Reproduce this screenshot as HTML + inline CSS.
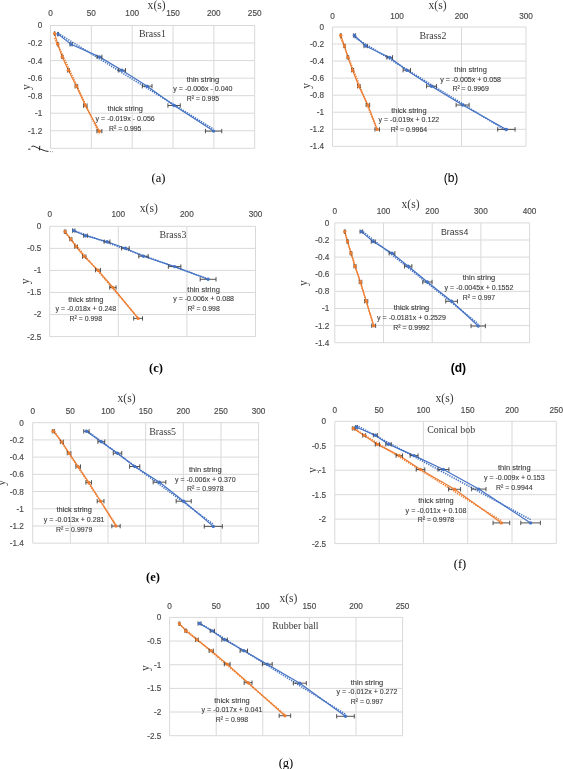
<!DOCTYPE html>
<html><head><meta charset="utf-8"><style>
html,body{margin:0;padding:0;background:#fff;}
svg{display:block;filter:blur(0.35px);}
.tk{font-family:"Liberation Sans", sans-serif;font-size:8.2px;fill:#4a4a4a;stroke:#4a4a4a;stroke-width:0.15px;}
.an{font-family:"Liberation Sans", sans-serif;font-size:8.1px;fill:#3a3a3a;stroke:#3a3a3a;stroke-width:0.12px;}
.ax{font-family:"Liberation Serif", serif;font-size:11.6px;fill:#3a3a3a;}
.ttl{font-family:"Liberation Serif", serif;font-size:9.9px;fill:#3a3a3a;}
.ttls{font-family:"Liberation Sans", sans-serif;font-size:8.8px;fill:#3a3a3a;}
.cap{font-family:"Liberation Serif", serif;font-size:12.5px;fill:#000;}
.caps{font-family:"Liberation Sans", sans-serif;font-size:12px;fill:#000;}
</style></head><body>
<svg width="563" height="769" viewBox="0 0 563 769">
<rect width="563" height="769" fill="#fff"/>
<line x1="50.5" y1="25.5" x2="50.5" y2="148.3" stroke="#d9d9d9" stroke-width="1"/>
<line x1="91.34" y1="25.5" x2="91.34" y2="148.3" stroke="#d9d9d9" stroke-width="1"/>
<line x1="132.18" y1="25.5" x2="132.18" y2="148.3" stroke="#d9d9d9" stroke-width="1"/>
<line x1="173.02" y1="25.5" x2="173.02" y2="148.3" stroke="#d9d9d9" stroke-width="1"/>
<line x1="213.86" y1="25.5" x2="213.86" y2="148.3" stroke="#d9d9d9" stroke-width="1"/>
<line x1="254.7" y1="25.5" x2="254.7" y2="148.3" stroke="#d9d9d9" stroke-width="1"/>
<line x1="50.5" y1="25.5" x2="254.7" y2="25.5" stroke="#d9d9d9" stroke-width="1"/>
<line x1="50.5" y1="43.04" x2="254.7" y2="43.04" stroke="#d9d9d9" stroke-width="1"/>
<line x1="50.5" y1="60.59" x2="254.7" y2="60.59" stroke="#d9d9d9" stroke-width="1"/>
<line x1="50.5" y1="78.13" x2="254.7" y2="78.13" stroke="#d9d9d9" stroke-width="1"/>
<line x1="50.5" y1="95.67" x2="254.7" y2="95.67" stroke="#d9d9d9" stroke-width="1"/>
<line x1="50.5" y1="113.21" x2="254.7" y2="113.21" stroke="#d9d9d9" stroke-width="1"/>
<line x1="50.5" y1="130.76" x2="254.7" y2="130.76" stroke="#d9d9d9" stroke-width="1"/>
<line x1="50.5" y1="148.3" x2="254.7" y2="148.3" stroke="#d9d9d9" stroke-width="1"/>
<text x="50.5" y="15.95" text-anchor="middle" class="tk">0</text>
<text x="91.34" y="15.95" text-anchor="middle" class="tk">50</text>
<text x="132.18" y="15.95" text-anchor="middle" class="tk">100</text>
<text x="173.02" y="15.95" text-anchor="middle" class="tk">150</text>
<text x="213.86" y="15.95" text-anchor="middle" class="tk">200</text>
<text x="254.7" y="15.95" text-anchor="middle" class="tk">250</text>
<text x="42.2" y="28.45" text-anchor="end" class="tk">0</text>
<text x="42.2" y="45.99" text-anchor="end" class="tk">-0.2</text>
<text x="42.2" y="63.54" text-anchor="end" class="tk">-0.4</text>
<text x="42.2" y="81.08" text-anchor="end" class="tk">-0.6</text>
<text x="42.2" y="98.62" text-anchor="end" class="tk">-0.8</text>
<text x="42.2" y="116.16" text-anchor="end" class="tk">-1</text>
<text x="42.2" y="133.71" text-anchor="end" class="tk">-1.2</text>
<text x="156.6" y="9" text-anchor="middle" class="ax">x(s)</text>
<text transform="translate(28.65,87) rotate(-90)" x="0" y="1.3" text-anchor="middle" class="ax">y</text>
<text x="152.4" y="37.3" text-anchor="middle" class="ttl">Brass1</text>
<line x1="54.6" y1="38.02" x2="99.4" y2="134.22" stroke="#ed7d31" stroke-width="1.6" stroke-dasharray="1.3 1.1" />
<path d="M54.6,33.6 L57.8,44.2 L62.2,56.7 L68.4,70.3 L76.4,86.3 L85.3,105.6 L99.4,131.2" fill="none" stroke="#ed7d31" stroke-width="1.2"/>
<path d="M54.4,33.6 H54.8 M54.4,31.4 V35.8 M54.8,31.4 V35.8" stroke="#404040" stroke-width="0.9" fill="none"/>
<path d="M57.43,44.2 H58.16 M57.43,42 V46.4 M58.16,42 V46.4" stroke="#404040" stroke-width="0.9" fill="none"/>
<path d="M61.62,56.7 H62.79 M61.62,54.5 V58.9 M62.79,54.5 V58.9" stroke="#404040" stroke-width="0.9" fill="none"/>
<path d="M67.51,70.3 H69.3 M67.51,68.1 V72.5 M69.3,68.1 V72.5" stroke="#404040" stroke-width="0.9" fill="none"/>
<path d="M75.11,86.3 H77.7 M75.11,84.1 V88.5 M77.7,84.1 V88.5" stroke="#404040" stroke-width="0.9" fill="none"/>
<path d="M83.56,105.6 H87.04 M83.56,103.4 V107.8 M87.04,103.4 V107.8" stroke="#404040" stroke-width="0.9" fill="none"/>
<path d="M96.96,131.2 H101.84 M96.96,129 V133.4 M101.84,129 V133.4" stroke="#404040" stroke-width="0.9" fill="none"/>
<circle cx="54.6" cy="33.6" r="1.7" fill="#ed7d31"/>
<circle cx="57.8" cy="44.2" r="1.7" fill="#ed7d31"/>
<circle cx="62.2" cy="56.7" r="1.7" fill="#ed7d31"/>
<circle cx="68.4" cy="70.3" r="1.7" fill="#ed7d31"/>
<circle cx="76.4" cy="86.3" r="1.7" fill="#ed7d31"/>
<circle cx="85.3" cy="105.6" r="1.7" fill="#ed7d31"/>
<circle cx="99.4" cy="131.2" r="1.7" fill="#ed7d31"/>
<line x1="58" y1="33.27" x2="213.6" y2="129.18" stroke="#4472c4" stroke-width="1.6" stroke-dasharray="1.3 1.1" />
<path d="M58,34.1 L71.1,44.3 L99.5,56.9 L121.9,70.3 L147.2,86.2 L174.1,105.5 L213.6,131.1" fill="none" stroke="#4472c4" stroke-width="1.2"/>
<path d="M57.62,34.1 H58.38 M57.62,31.9 V36.3 M58.38,31.9 V36.3" stroke="#404040" stroke-width="0.9" fill="none"/>
<path d="M70.07,44.3 H72.13 M70.07,42.1 V46.5 M72.13,42.1 V46.5" stroke="#404040" stroke-width="0.9" fill="none"/>
<path d="M97.05,56.9 H101.95 M97.05,54.7 V59.1 M101.95,54.7 V59.1" stroke="#404040" stroke-width="0.9" fill="none"/>
<path d="M118.33,70.3 H125.47 M118.33,68.1 V72.5 M125.47,68.1 V72.5" stroke="#404040" stroke-width="0.9" fill="none"/>
<path d="M142.36,86.2 H152.03 M142.36,84 V88.4 M152.03,84 V88.4" stroke="#404040" stroke-width="0.9" fill="none"/>
<path d="M167.92,105.5 H180.28 M167.92,103.3 V107.7 M180.28,103.3 V107.7" stroke="#404040" stroke-width="0.9" fill="none"/>
<path d="M205.44,131.1 H221.75 M205.44,128.9 V133.3 M221.75,128.9 V133.3" stroke="#404040" stroke-width="0.9" fill="none"/>
<circle cx="58" cy="34.1" r="1.7" fill="#4472c4"/>
<circle cx="71.1" cy="44.3" r="1.7" fill="#4472c4"/>
<circle cx="99.5" cy="56.9" r="1.7" fill="#4472c4"/>
<circle cx="121.9" cy="70.3" r="1.7" fill="#4472c4"/>
<circle cx="147.2" cy="86.2" r="1.7" fill="#4472c4"/>
<circle cx="174.1" cy="105.5" r="1.7" fill="#4472c4"/>
<circle cx="213.6" cy="131.1" r="1.7" fill="#4472c4"/>
<text x="202.9" y="81.5" text-anchor="middle" class="an" textLength="32.53" lengthAdjust="spacingAndGlyphs">thin string</text>
<text x="202.9" y="91.1" text-anchor="middle" class="an" textLength="59.18" lengthAdjust="spacingAndGlyphs">y = -0.006x - 0.040</text>
<text x="202.9" y="100.7" text-anchor="middle" class="an" textLength="32.39" lengthAdjust="spacingAndGlyphs">R² = 0.995</text>
<text x="125.2" y="111.1" text-anchor="middle" class="an" textLength="35.35" lengthAdjust="spacingAndGlyphs">thick string</text>
<text x="125.2" y="120.9" text-anchor="middle" class="an" textLength="59.18" lengthAdjust="spacingAndGlyphs">y = -0.019x - 0.056</text>
<text x="125.2" y="130.9" text-anchor="middle" class="an" textLength="32.39" lengthAdjust="spacingAndGlyphs">R² = 0.995</text>
<text x="158.5" y="182" text-anchor="middle" class="cap" font-weight="normal">(a)</text>
<line x1="332.5" y1="27" x2="332.5" y2="146.3" stroke="#d9d9d9" stroke-width="1"/>
<line x1="397" y1="27" x2="397" y2="146.3" stroke="#d9d9d9" stroke-width="1"/>
<line x1="461.5" y1="27" x2="461.5" y2="146.3" stroke="#d9d9d9" stroke-width="1"/>
<line x1="526" y1="27" x2="526" y2="146.3" stroke="#d9d9d9" stroke-width="1"/>
<line x1="332.5" y1="27" x2="526" y2="27" stroke="#d9d9d9" stroke-width="1"/>
<line x1="332.5" y1="44.04" x2="526" y2="44.04" stroke="#d9d9d9" stroke-width="1"/>
<line x1="332.5" y1="61.09" x2="526" y2="61.09" stroke="#d9d9d9" stroke-width="1"/>
<line x1="332.5" y1="78.13" x2="526" y2="78.13" stroke="#d9d9d9" stroke-width="1"/>
<line x1="332.5" y1="95.17" x2="526" y2="95.17" stroke="#d9d9d9" stroke-width="1"/>
<line x1="332.5" y1="112.21" x2="526" y2="112.21" stroke="#d9d9d9" stroke-width="1"/>
<line x1="332.5" y1="129.26" x2="526" y2="129.26" stroke="#d9d9d9" stroke-width="1"/>
<line x1="332.5" y1="146.3" x2="526" y2="146.3" stroke="#d9d9d9" stroke-width="1"/>
<text x="332.5" y="18.55" text-anchor="middle" class="tk">0</text>
<text x="397" y="18.55" text-anchor="middle" class="tk">100</text>
<text x="461.5" y="18.55" text-anchor="middle" class="tk">200</text>
<text x="526" y="18.55" text-anchor="middle" class="tk">300</text>
<text x="324" y="29.95" text-anchor="end" class="tk">0</text>
<text x="324" y="46.99" text-anchor="end" class="tk">-0.2</text>
<text x="324" y="64.04" text-anchor="end" class="tk">-0.4</text>
<text x="324" y="81.08" text-anchor="end" class="tk">-0.6</text>
<text x="324" y="98.12" text-anchor="end" class="tk">-0.8</text>
<text x="324" y="115.16" text-anchor="end" class="tk">-1</text>
<text x="324" y="132.21" text-anchor="end" class="tk">-1.2</text>
<text x="324" y="149.25" text-anchor="end" class="tk">-1.4</text>
<text x="437.5" y="8.7" text-anchor="middle" class="ax">x(s)</text>
<text transform="translate(309,85.9) rotate(-90)" x="0" y="1.3" text-anchor="middle" class="ax">y</text>
<text x="432.9" y="38.9" text-anchor="middle" class="ttl">Brass2</text>
<line x1="340.8" y1="37.93" x2="377.2" y2="130.31" stroke="#ed7d31" stroke-width="1.6" stroke-dasharray="1.3 1.1" />
<path d="M340.8,35.5 L344.5,46 L347.9,57.4 L352.6,70.2 L358.8,86.2 L367.9,105 L377.2,129.4" fill="none" stroke="#ed7d31" stroke-width="1.2"/>
<path d="M340.38,35.5 H341.22 M340.38,33.3 V37.7 M341.22,33.3 V37.7" stroke="#404040" stroke-width="0.9" fill="none"/>
<path d="M343.9,46 H345.1 M343.9,43.8 V48.2 M345.1,43.8 V48.2" stroke="#404040" stroke-width="0.9" fill="none"/>
<path d="M347.13,57.4 H348.67 M347.13,55.2 V59.6 M348.67,55.2 V59.6" stroke="#404040" stroke-width="0.9" fill="none"/>
<path d="M351.6,70.2 H353.61 M351.6,68 V72.4 M353.61,68 V72.4" stroke="#404040" stroke-width="0.9" fill="none"/>
<path d="M357.49,86.2 H360.12 M357.49,84 V88.4 M360.12,84 V88.4" stroke="#404040" stroke-width="0.9" fill="none"/>
<path d="M366.13,105 H369.67 M366.13,102.8 V107.2 M369.67,102.8 V107.2" stroke="#404040" stroke-width="0.9" fill="none"/>
<path d="M374.96,129.4 H379.44 M374.96,127.2 V131.6 M379.44,127.2 V131.6" stroke="#404040" stroke-width="0.9" fill="none"/>
<circle cx="340.8" cy="35.5" r="1.7" fill="#ed7d31"/>
<circle cx="344.5" cy="46" r="1.7" fill="#ed7d31"/>
<circle cx="347.9" cy="57.4" r="1.7" fill="#ed7d31"/>
<circle cx="352.6" cy="70.2" r="1.7" fill="#ed7d31"/>
<circle cx="358.8" cy="86.2" r="1.7" fill="#ed7d31"/>
<circle cx="367.9" cy="105" r="1.7" fill="#ed7d31"/>
<circle cx="377.2" cy="129.4" r="1.7" fill="#ed7d31"/>
<line x1="354.5" y1="37.36" x2="506.4" y2="130.88" stroke="#4472c4" stroke-width="1.6" stroke-dasharray="1.3 1.1" />
<path d="M354.5,35.5 L365.6,46 L389.7,57.4 L406.8,70.2 L431.5,86.2 L462.6,105 L506.4,129.4" fill="none" stroke="#4472c4" stroke-width="1.2"/>
<path d="M353.4,35.5 H355.6 M353.4,33.3 V37.7 M355.6,33.3 V37.7" stroke="#404040" stroke-width="0.9" fill="none"/>
<path d="M363.95,46 H367.25 M363.95,43.8 V48.2 M367.25,43.8 V48.2" stroke="#404040" stroke-width="0.9" fill="none"/>
<path d="M386.84,57.4 H392.56 M386.84,55.2 V59.6 M392.56,55.2 V59.6" stroke="#404040" stroke-width="0.9" fill="none"/>
<path d="M403.09,70.2 H410.51 M403.09,68 V72.4 M410.51,68 V72.4" stroke="#404040" stroke-width="0.9" fill="none"/>
<path d="M426.55,86.2 H436.45 M426.55,84 V88.4 M436.45,84 V88.4" stroke="#404040" stroke-width="0.9" fill="none"/>
<path d="M456.1,105 H469.11 M456.1,102.8 V107.2 M469.11,102.8 V107.2" stroke="#404040" stroke-width="0.9" fill="none"/>
<path d="M497.7,129.4 H515.1 M497.7,127.2 V131.6 M515.1,127.2 V131.6" stroke="#404040" stroke-width="0.9" fill="none"/>
<circle cx="354.5" cy="35.5" r="1.7" fill="#4472c4"/>
<circle cx="365.6" cy="46" r="1.7" fill="#4472c4"/>
<circle cx="389.7" cy="57.4" r="1.7" fill="#4472c4"/>
<circle cx="406.8" cy="70.2" r="1.7" fill="#4472c4"/>
<circle cx="431.5" cy="86.2" r="1.7" fill="#4472c4"/>
<circle cx="462.6" cy="105" r="1.7" fill="#4472c4"/>
<circle cx="506.4" cy="129.4" r="1.7" fill="#4472c4"/>
<text x="470.6" y="72.2" text-anchor="middle" class="an" textLength="32.53" lengthAdjust="spacingAndGlyphs">thin string</text>
<text x="470.6" y="81.8" text-anchor="middle" class="an" textLength="60.77" lengthAdjust="spacingAndGlyphs">y = -0.005x + 0.058</text>
<text x="470.6" y="91.4" text-anchor="middle" class="an" textLength="36.44" lengthAdjust="spacingAndGlyphs">R² = 0.9969</text>
<text x="408.9" y="112.6" text-anchor="middle" class="an" textLength="35.35" lengthAdjust="spacingAndGlyphs">thick string</text>
<text x="408.9" y="121.8" text-anchor="middle" class="an" textLength="60.77" lengthAdjust="spacingAndGlyphs">y = -0.019x + 0.122</text>
<text x="408.9" y="131.8" text-anchor="middle" class="an" textLength="36.44" lengthAdjust="spacingAndGlyphs">R² = 0.9964</text>
<text x="451" y="182" text-anchor="middle" class="caps" font-weight="normal">(b)</text>
<line x1="49.7" y1="226.3" x2="49.7" y2="336.6" stroke="#d9d9d9" stroke-width="1"/>
<line x1="118.3" y1="226.3" x2="118.3" y2="336.6" stroke="#d9d9d9" stroke-width="1"/>
<line x1="186.9" y1="226.3" x2="186.9" y2="336.6" stroke="#d9d9d9" stroke-width="1"/>
<line x1="255.5" y1="226.3" x2="255.5" y2="336.6" stroke="#d9d9d9" stroke-width="1"/>
<line x1="49.7" y1="226.3" x2="255.5" y2="226.3" stroke="#d9d9d9" stroke-width="1"/>
<line x1="49.7" y1="248.36" x2="255.5" y2="248.36" stroke="#d9d9d9" stroke-width="1"/>
<line x1="49.7" y1="270.42" x2="255.5" y2="270.42" stroke="#d9d9d9" stroke-width="1"/>
<line x1="49.7" y1="292.48" x2="255.5" y2="292.48" stroke="#d9d9d9" stroke-width="1"/>
<line x1="49.7" y1="314.54" x2="255.5" y2="314.54" stroke="#d9d9d9" stroke-width="1"/>
<line x1="49.7" y1="336.6" x2="255.5" y2="336.6" stroke="#d9d9d9" stroke-width="1"/>
<text x="49.7" y="217.35" text-anchor="middle" class="tk">0</text>
<text x="118.3" y="217.35" text-anchor="middle" class="tk">100</text>
<text x="186.9" y="217.35" text-anchor="middle" class="tk">200</text>
<text x="255.5" y="217.35" text-anchor="middle" class="tk">300</text>
<text x="41.3" y="229.25" text-anchor="end" class="tk">0</text>
<text x="41.3" y="251.31" text-anchor="end" class="tk">-0.5</text>
<text x="41.3" y="273.37" text-anchor="end" class="tk">-1</text>
<text x="41.3" y="295.43" text-anchor="end" class="tk">-1.5</text>
<text x="41.3" y="317.49" text-anchor="end" class="tk">-2</text>
<text x="41.3" y="339.55" text-anchor="end" class="tk">-2.5</text>
<text x="148.8" y="212.4" text-anchor="middle" class="ax">x(s)</text>
<text transform="translate(27.8,281.4) rotate(-90)" x="0" y="1.3" text-anchor="middle" class="ax">y</text>
<text x="172.9" y="237.5" text-anchor="middle" class="ttl">Brass3</text>
<line x1="65.1" y1="232.66" x2="138.1" y2="317.9" stroke="#ed7d31" stroke-width="1.6" stroke-dasharray="1.3 1.1" />
<path d="M65.1,231.6 L70.8,239.1 L76.1,246.6 L84.2,256.6 L98,270.1 L112.9,287.5 L138.1,318.4" fill="none" stroke="#ed7d31" stroke-width="1.2"/>
<path d="M64.33,231.6 H65.87 M64.33,229.4 V233.8 M65.87,229.4 V233.8" stroke="#404040" stroke-width="0.9" fill="none"/>
<path d="M69.75,239.1 H71.85 M69.75,236.9 V241.3 M71.85,236.9 V241.3" stroke="#404040" stroke-width="0.9" fill="none"/>
<path d="M74.78,246.6 H77.42 M74.78,244.4 V248.8 M77.42,244.4 V248.8" stroke="#404040" stroke-width="0.9" fill="none"/>
<path d="M82.48,256.6 H85.92 M82.48,254.4 V258.8 M85.92,254.4 V258.8" stroke="#404040" stroke-width="0.9" fill="none"/>
<path d="M95.58,270.1 H100.42 M95.58,267.9 V272.3 M100.42,267.9 V272.3" stroke="#404040" stroke-width="0.9" fill="none"/>
<path d="M109.74,287.5 H116.06 M109.74,285.3 V289.7 M116.06,285.3 V289.7" stroke="#404040" stroke-width="0.9" fill="none"/>
<path d="M133.68,318.4 H142.52 M133.68,316.2 V320.6 M142.52,316.2 V320.6" stroke="#404040" stroke-width="0.9" fill="none"/>
<circle cx="65.1" cy="231.6" r="1.7" fill="#ed7d31"/>
<circle cx="70.8" cy="239.1" r="1.7" fill="#ed7d31"/>
<circle cx="76.1" cy="246.6" r="1.7" fill="#ed7d31"/>
<circle cx="84.2" cy="256.6" r="1.7" fill="#ed7d31"/>
<circle cx="98" cy="270.1" r="1.7" fill="#ed7d31"/>
<circle cx="112.9" cy="287.5" r="1.7" fill="#ed7d31"/>
<circle cx="138.1" cy="318.4" r="1.7" fill="#ed7d31"/>
<line x1="73.7" y1="230.52" x2="208.1" y2="278.94" stroke="#4472c4" stroke-width="1.6" stroke-dasharray="1.3 1.1" />
<path d="M73.7,230.6 L85.5,235.7 L107,241.7 L125.4,248.3 L143.5,256.2 L174.6,266.6 L208.1,279.3" fill="none" stroke="#4472c4" stroke-width="1.2"/>
<path d="M72.5,230.6 H74.9 M72.5,228.4 V232.8 M74.9,228.4 V232.8" stroke="#404040" stroke-width="0.9" fill="none"/>
<path d="M83.71,235.7 H87.29 M83.71,233.5 V237.9 M87.29,233.5 V237.9" stroke="#404040" stroke-width="0.9" fill="none"/>
<path d="M104.14,241.7 H109.86 M104.14,239.5 V243.9 M109.86,239.5 V243.9" stroke="#404040" stroke-width="0.9" fill="none"/>
<path d="M121.62,248.3 H129.19 M121.62,246.1 V250.5 M129.19,246.1 V250.5" stroke="#404040" stroke-width="0.9" fill="none"/>
<path d="M138.81,256.2 H148.19 M138.81,254 V258.4 M148.19,254 V258.4" stroke="#404040" stroke-width="0.9" fill="none"/>
<path d="M168.35,266.6 H180.84 M168.35,264.4 V268.8 M180.84,264.4 V268.8" stroke="#404040" stroke-width="0.9" fill="none"/>
<path d="M200.18,279.3 H216.02 M200.18,277.1 V281.5 M216.02,277.1 V281.5" stroke="#404040" stroke-width="0.9" fill="none"/>
<circle cx="73.7" cy="230.6" r="1.7" fill="#4472c4"/>
<circle cx="85.5" cy="235.7" r="1.7" fill="#4472c4"/>
<circle cx="107" cy="241.7" r="1.7" fill="#4472c4"/>
<circle cx="125.4" cy="248.3" r="1.7" fill="#4472c4"/>
<circle cx="143.5" cy="256.2" r="1.7" fill="#4472c4"/>
<circle cx="174.6" cy="266.6" r="1.7" fill="#4472c4"/>
<circle cx="208.1" cy="279.3" r="1.7" fill="#4472c4"/>
<text x="203.6" y="291.5" text-anchor="middle" class="an" textLength="32.53" lengthAdjust="spacingAndGlyphs">thin string</text>
<text x="203.6" y="301.2" text-anchor="middle" class="an" textLength="60.77" lengthAdjust="spacingAndGlyphs">y = -0.006x + 0.088</text>
<text x="203.6" y="311.1" text-anchor="middle" class="an" textLength="32.39" lengthAdjust="spacingAndGlyphs">R² = 0.998</text>
<text x="85.8" y="301.5" text-anchor="middle" class="an" textLength="35.35" lengthAdjust="spacingAndGlyphs">thick string</text>
<text x="85.8" y="311.1" text-anchor="middle" class="an" textLength="60.77" lengthAdjust="spacingAndGlyphs">y = -0.018x + 0.248</text>
<text x="85.8" y="321.1" text-anchor="middle" class="an" textLength="32.39" lengthAdjust="spacingAndGlyphs">R² = 0.998</text>
<text x="156" y="372" text-anchor="middle" class="cap" font-weight="bold">(c)</text>
<line x1="334.8" y1="222.9" x2="334.8" y2="342.7" stroke="#d9d9d9" stroke-width="1"/>
<line x1="383.5" y1="222.9" x2="383.5" y2="342.7" stroke="#d9d9d9" stroke-width="1"/>
<line x1="432.2" y1="222.9" x2="432.2" y2="342.7" stroke="#d9d9d9" stroke-width="1"/>
<line x1="480.9" y1="222.9" x2="480.9" y2="342.7" stroke="#d9d9d9" stroke-width="1"/>
<line x1="529.6" y1="222.9" x2="529.6" y2="342.7" stroke="#d9d9d9" stroke-width="1"/>
<line x1="334.8" y1="222.9" x2="529.6" y2="222.9" stroke="#d9d9d9" stroke-width="1"/>
<line x1="334.8" y1="240.01" x2="529.6" y2="240.01" stroke="#d9d9d9" stroke-width="1"/>
<line x1="334.8" y1="257.13" x2="529.6" y2="257.13" stroke="#d9d9d9" stroke-width="1"/>
<line x1="334.8" y1="274.24" x2="529.6" y2="274.24" stroke="#d9d9d9" stroke-width="1"/>
<line x1="334.8" y1="291.36" x2="529.6" y2="291.36" stroke="#d9d9d9" stroke-width="1"/>
<line x1="334.8" y1="308.47" x2="529.6" y2="308.47" stroke="#d9d9d9" stroke-width="1"/>
<line x1="334.8" y1="325.59" x2="529.6" y2="325.59" stroke="#d9d9d9" stroke-width="1"/>
<line x1="334.8" y1="342.7" x2="529.6" y2="342.7" stroke="#d9d9d9" stroke-width="1"/>
<text x="334.8" y="214.15" text-anchor="middle" class="tk">0</text>
<text x="383.5" y="214.15" text-anchor="middle" class="tk">100</text>
<text x="432.2" y="214.15" text-anchor="middle" class="tk">200</text>
<text x="480.9" y="214.15" text-anchor="middle" class="tk">300</text>
<text x="529.6" y="214.15" text-anchor="middle" class="tk">400</text>
<text x="329.4" y="225.85" text-anchor="end" class="tk">0</text>
<text x="329.4" y="242.96" text-anchor="end" class="tk">-0.2</text>
<text x="329.4" y="260.08" text-anchor="end" class="tk">-0.4</text>
<text x="329.4" y="277.19" text-anchor="end" class="tk">-0.6</text>
<text x="329.4" y="294.31" text-anchor="end" class="tk">-0.8</text>
<text x="329.4" y="311.42" text-anchor="end" class="tk">-1</text>
<text x="329.4" y="328.54" text-anchor="end" class="tk">-1.2</text>
<text x="329.4" y="345.65" text-anchor="end" class="tk">-1.4</text>
<text x="410.5" y="208" text-anchor="middle" class="ax">x(s)</text>
<text transform="translate(305.3,283.2) rotate(-90)" x="0" y="1.3" text-anchor="middle" class="ax">y</text>
<text x="454.6" y="235.3" text-anchor="middle" class="ttls">Brass4</text>
<line x1="344.8" y1="232.48" x2="373.7" y2="325.54" stroke="#ed7d31" stroke-width="1.6" stroke-dasharray="1.3 1.1" />
<path d="M344.8,231.6 L347.6,241.6 L351,253.3 L355,266.3 L360.5,282 L366.2,301.2 L373.7,325.7" fill="none" stroke="#ed7d31" stroke-width="1.2"/>
<path d="M344.3,231.6 H345.3 M344.3,229.4 V233.8 M345.3,229.4 V233.8" stroke="#404040" stroke-width="0.9" fill="none"/>
<path d="M346.96,241.6 H348.24 M346.96,239.4 V243.8 M348.24,239.4 V243.8" stroke="#404040" stroke-width="0.9" fill="none"/>
<path d="M350.19,253.3 H351.81 M350.19,251.1 V255.5 M351.81,251.1 V255.5" stroke="#404040" stroke-width="0.9" fill="none"/>
<path d="M353.99,266.3 H356.01 M353.99,264.1 V268.5 M356.01,264.1 V268.5" stroke="#404040" stroke-width="0.9" fill="none"/>
<path d="M359.21,282 H361.79 M359.21,279.8 V284.2 M361.79,279.8 V284.2" stroke="#404040" stroke-width="0.9" fill="none"/>
<path d="M364.63,301.2 H367.77 M364.63,299 V303.4 M367.77,299 V303.4" stroke="#404040" stroke-width="0.9" fill="none"/>
<path d="M371.75,325.7 H375.64 M371.75,323.5 V327.9 M375.64,323.5 V327.9" stroke="#404040" stroke-width="0.9" fill="none"/>
<circle cx="344.8" cy="231.6" r="1.7" fill="#ed7d31"/>
<circle cx="347.6" cy="241.6" r="1.7" fill="#ed7d31"/>
<circle cx="351" cy="253.3" r="1.7" fill="#ed7d31"/>
<circle cx="355" cy="266.3" r="1.7" fill="#ed7d31"/>
<circle cx="360.5" cy="282" r="1.7" fill="#ed7d31"/>
<circle cx="366.2" cy="301.2" r="1.7" fill="#ed7d31"/>
<circle cx="373.7" cy="325.7" r="1.7" fill="#ed7d31"/>
<line x1="361.4" y1="230.41" x2="478.2" y2="323.67" stroke="#4472c4" stroke-width="1.6" stroke-dasharray="1.3 1.1" />
<path d="M361.4,231.6 L373.2,241.6 L392,253.3 L408.2,266.3 L427.4,282 L451.6,301.3 L478.2,326" fill="none" stroke="#4472c4" stroke-width="1.2"/>
<path d="M360.07,231.6 H362.73 M360.07,229.4 V233.8 M362.73,229.4 V233.8" stroke="#404040" stroke-width="0.9" fill="none"/>
<path d="M371.28,241.6 H375.12 M371.28,239.4 V243.8 M375.12,239.4 V243.8" stroke="#404040" stroke-width="0.9" fill="none"/>
<path d="M389.14,253.3 H394.86 M389.14,251.1 V255.5 M394.86,251.1 V255.5" stroke="#404040" stroke-width="0.9" fill="none"/>
<path d="M404.53,266.3 H411.87 M404.53,264.1 V268.5 M411.87,264.1 V268.5" stroke="#404040" stroke-width="0.9" fill="none"/>
<path d="M422.77,282 H432.03 M422.77,279.8 V284.2 M432.03,279.8 V284.2" stroke="#404040" stroke-width="0.9" fill="none"/>
<path d="M445.76,301.3 H457.44 M445.76,299.1 V303.5 M457.44,299.1 V303.5" stroke="#404040" stroke-width="0.9" fill="none"/>
<path d="M471.03,326 H485.37 M471.03,323.8 V328.2 M485.37,323.8 V328.2" stroke="#404040" stroke-width="0.9" fill="none"/>
<circle cx="361.4" cy="231.6" r="1.7" fill="#4472c4"/>
<circle cx="373.2" cy="241.6" r="1.7" fill="#4472c4"/>
<circle cx="392" cy="253.3" r="1.7" fill="#4472c4"/>
<circle cx="408.2" cy="266.3" r="1.7" fill="#4472c4"/>
<circle cx="427.4" cy="282" r="1.7" fill="#4472c4"/>
<circle cx="451.6" cy="301.3" r="1.7" fill="#4472c4"/>
<circle cx="478.2" cy="326" r="1.7" fill="#4472c4"/>
<text x="479" y="280.1" text-anchor="middle" class="an" textLength="32.53" lengthAdjust="spacingAndGlyphs">thin string</text>
<text x="479" y="289.7" text-anchor="middle" class="an" textLength="68.88" lengthAdjust="spacingAndGlyphs">y = -0.0045x + 0.1552</text>
<text x="479" y="299.7" text-anchor="middle" class="an" textLength="32.39" lengthAdjust="spacingAndGlyphs">R² = 0.997</text>
<text x="411.5" y="310.3" text-anchor="middle" class="an" textLength="35.35" lengthAdjust="spacingAndGlyphs">thick string</text>
<text x="411.5" y="320.1" text-anchor="middle" class="an" textLength="68.88" lengthAdjust="spacingAndGlyphs">y = -0.0181x + 0.2529</text>
<text x="411.5" y="330.1" text-anchor="middle" class="an" textLength="36.44" lengthAdjust="spacingAndGlyphs">R² = 0.9992</text>
<text x="458.4" y="371.7" text-anchor="middle" class="caps" font-weight="bold">(d)</text>
<line x1="32.7" y1="422.7" x2="32.7" y2="543.2" stroke="#d9d9d9" stroke-width="1"/>
<line x1="70.35" y1="422.7" x2="70.35" y2="543.2" stroke="#d9d9d9" stroke-width="1"/>
<line x1="108" y1="422.7" x2="108" y2="543.2" stroke="#d9d9d9" stroke-width="1"/>
<line x1="145.65" y1="422.7" x2="145.65" y2="543.2" stroke="#d9d9d9" stroke-width="1"/>
<line x1="183.3" y1="422.7" x2="183.3" y2="543.2" stroke="#d9d9d9" stroke-width="1"/>
<line x1="220.95" y1="422.7" x2="220.95" y2="543.2" stroke="#d9d9d9" stroke-width="1"/>
<line x1="258.6" y1="422.7" x2="258.6" y2="543.2" stroke="#d9d9d9" stroke-width="1"/>
<line x1="32.7" y1="422.7" x2="258.6" y2="422.7" stroke="#d9d9d9" stroke-width="1"/>
<line x1="32.7" y1="439.91" x2="258.6" y2="439.91" stroke="#d9d9d9" stroke-width="1"/>
<line x1="32.7" y1="457.13" x2="258.6" y2="457.13" stroke="#d9d9d9" stroke-width="1"/>
<line x1="32.7" y1="474.34" x2="258.6" y2="474.34" stroke="#d9d9d9" stroke-width="1"/>
<line x1="32.7" y1="491.56" x2="258.6" y2="491.56" stroke="#d9d9d9" stroke-width="1"/>
<line x1="32.7" y1="508.77" x2="258.6" y2="508.77" stroke="#d9d9d9" stroke-width="1"/>
<line x1="32.7" y1="525.99" x2="258.6" y2="525.99" stroke="#d9d9d9" stroke-width="1"/>
<line x1="32.7" y1="543.2" x2="258.6" y2="543.2" stroke="#d9d9d9" stroke-width="1"/>
<text x="32.7" y="413.95" text-anchor="middle" class="tk">0</text>
<text x="70.35" y="413.95" text-anchor="middle" class="tk">50</text>
<text x="108" y="413.95" text-anchor="middle" class="tk">100</text>
<text x="145.65" y="413.95" text-anchor="middle" class="tk">150</text>
<text x="183.3" y="413.95" text-anchor="middle" class="tk">200</text>
<text x="220.95" y="413.95" text-anchor="middle" class="tk">250</text>
<text x="258.6" y="413.95" text-anchor="middle" class="tk">300</text>
<text x="23.9" y="425.65" text-anchor="end" class="tk">0</text>
<text x="23.9" y="442.86" text-anchor="end" class="tk">-0.2</text>
<text x="23.9" y="460.08" text-anchor="end" class="tk">-0.4</text>
<text x="23.9" y="477.29" text-anchor="end" class="tk">-0.6</text>
<text x="23.9" y="494.51" text-anchor="end" class="tk">-0.8</text>
<text x="23.9" y="511.72" text-anchor="end" class="tk">-1</text>
<text x="23.9" y="528.94" text-anchor="end" class="tk">-1.2</text>
<text x="23.9" y="546.15" text-anchor="end" class="tk">-1.4</text>
<text x="126.5" y="402" text-anchor="middle" class="ax">x(s)</text>
<text transform="translate(3.65,482.9) rotate(-90)" x="0" y="1.3" text-anchor="middle" class="ax">y</text>
<text x="162.6" y="435" text-anchor="middle" class="ttl">Brass5</text>
<line x1="53.3" y1="429.55" x2="116" y2="524.87" stroke="#ed7d31" stroke-width="1.6" stroke-dasharray="1.3 1.1" />
<path d="M53.3,431.3 L61.8,441.9 L69.1,453.2 L78.2,466.6 L88.7,482.4 L100.6,501.2 L116,526.1" fill="none" stroke="#ed7d31" stroke-width="1.2"/>
<path d="M52.27,431.3 H54.33 M52.27,429.1 V433.5 M54.33,429.1 V433.5" stroke="#404040" stroke-width="0.9" fill="none"/>
<path d="M60.34,441.9 H63.25 M60.34,439.7 V444.1 M63.25,439.7 V444.1" stroke="#404040" stroke-width="0.9" fill="none"/>
<path d="M67.28,453.2 H70.92 M67.28,451 V455.4 M70.92,451 V455.4" stroke="#404040" stroke-width="0.9" fill="none"/>
<path d="M75.92,466.6 H80.48 M75.92,464.4 V468.8 M80.48,464.4 V468.8" stroke="#404040" stroke-width="0.9" fill="none"/>
<path d="M85.9,482.4 H91.5 M85.9,480.2 V484.6 M91.5,480.2 V484.6" stroke="#404040" stroke-width="0.9" fill="none"/>
<path d="M97.2,501.2 H103.99 M97.2,499 V503.4 M103.99,499 V503.4" stroke="#404040" stroke-width="0.9" fill="none"/>
<path d="M111.83,526.1 H120.17 M111.83,523.9 V528.3 M120.17,523.9 V528.3" stroke="#404040" stroke-width="0.9" fill="none"/>
<circle cx="53.3" cy="431.3" r="1.7" fill="#ed7d31"/>
<circle cx="61.8" cy="441.9" r="1.7" fill="#ed7d31"/>
<circle cx="69.1" cy="453.2" r="1.7" fill="#ed7d31"/>
<circle cx="78.2" cy="466.6" r="1.7" fill="#ed7d31"/>
<circle cx="88.7" cy="482.4" r="1.7" fill="#ed7d31"/>
<circle cx="100.6" cy="501.2" r="1.7" fill="#ed7d31"/>
<circle cx="116" cy="526.1" r="1.7" fill="#ed7d31"/>
<line x1="86.4" y1="430.39" x2="213.3" y2="524.3" stroke="#4472c4" stroke-width="1.6" stroke-dasharray="1.3 1.1" />
<path d="M86.4,431.3 L101.3,441.7 L117.5,453.2 L134.7,466.5 L159.5,482.2 L183.7,501.2 L213.3,526.4" fill="none" stroke="#4472c4" stroke-width="1.2"/>
<path d="M83.72,431.3 H89.09 M83.72,429.1 V433.5 M89.09,429.1 V433.5" stroke="#404040" stroke-width="0.9" fill="none"/>
<path d="M97.87,441.7 H104.73 M97.87,439.5 V443.9 M104.73,439.5 V443.9" stroke="#404040" stroke-width="0.9" fill="none"/>
<path d="M113.26,453.2 H121.74 M113.26,451 V455.4 M121.74,451 V455.4" stroke="#404040" stroke-width="0.9" fill="none"/>
<path d="M129.6,466.5 H139.8 M129.6,464.3 V468.7 M139.8,464.3 V468.7" stroke="#404040" stroke-width="0.9" fill="none"/>
<path d="M153.16,482.2 H165.84 M153.16,480 V484.4 M165.84,480 V484.4" stroke="#404040" stroke-width="0.9" fill="none"/>
<path d="M176.15,501.2 H191.25 M176.15,499 V503.4 M191.25,499 V503.4" stroke="#404040" stroke-width="0.9" fill="none"/>
<path d="M204.27,526.4 H222.33 M204.27,524.2 V528.6 M222.33,524.2 V528.6" stroke="#404040" stroke-width="0.9" fill="none"/>
<circle cx="86.4" cy="431.3" r="1.7" fill="#4472c4"/>
<circle cx="101.3" cy="441.7" r="1.7" fill="#4472c4"/>
<circle cx="117.5" cy="453.2" r="1.7" fill="#4472c4"/>
<circle cx="134.7" cy="466.5" r="1.7" fill="#4472c4"/>
<circle cx="159.5" cy="482.2" r="1.7" fill="#4472c4"/>
<circle cx="183.7" cy="501.2" r="1.7" fill="#4472c4"/>
<circle cx="213.3" cy="526.4" r="1.7" fill="#4472c4"/>
<text x="205.3" y="471.8" text-anchor="middle" class="an" textLength="32.53" lengthAdjust="spacingAndGlyphs">thin string</text>
<text x="205.3" y="481.7" text-anchor="middle" class="an" textLength="60.77" lengthAdjust="spacingAndGlyphs">y = -0.006x + 0.370</text>
<text x="205.3" y="491.1" text-anchor="middle" class="an" textLength="36.44" lengthAdjust="spacingAndGlyphs">R² = 0.9978</text>
<text x="74.1" y="512" text-anchor="middle" class="an" textLength="35.35" lengthAdjust="spacingAndGlyphs">thick string</text>
<text x="74.1" y="522" text-anchor="middle" class="an" textLength="60.77" lengthAdjust="spacingAndGlyphs">y = -0.013x + 0.281</text>
<text x="74.1" y="531.8" text-anchor="middle" class="an" textLength="36.44" lengthAdjust="spacingAndGlyphs">R² = 0.9979</text>
<text x="153" y="580.7" text-anchor="middle" class="cap" font-weight="bold">(e)</text>
<line x1="334.8" y1="421.3" x2="334.8" y2="543.6" stroke="#d9d9d9" stroke-width="1"/>
<line x1="379.1" y1="421.3" x2="379.1" y2="543.6" stroke="#d9d9d9" stroke-width="1"/>
<line x1="423.4" y1="421.3" x2="423.4" y2="543.6" stroke="#d9d9d9" stroke-width="1"/>
<line x1="467.7" y1="421.3" x2="467.7" y2="543.6" stroke="#d9d9d9" stroke-width="1"/>
<line x1="512" y1="421.3" x2="512" y2="543.6" stroke="#d9d9d9" stroke-width="1"/>
<line x1="556.3" y1="421.3" x2="556.3" y2="543.6" stroke="#d9d9d9" stroke-width="1"/>
<line x1="334.8" y1="421.3" x2="556.3" y2="421.3" stroke="#d9d9d9" stroke-width="1"/>
<line x1="334.8" y1="445.76" x2="556.3" y2="445.76" stroke="#d9d9d9" stroke-width="1"/>
<line x1="334.8" y1="470.22" x2="556.3" y2="470.22" stroke="#d9d9d9" stroke-width="1"/>
<line x1="334.8" y1="494.68" x2="556.3" y2="494.68" stroke="#d9d9d9" stroke-width="1"/>
<line x1="334.8" y1="519.14" x2="556.3" y2="519.14" stroke="#d9d9d9" stroke-width="1"/>
<line x1="334.8" y1="543.6" x2="556.3" y2="543.6" stroke="#d9d9d9" stroke-width="1"/>
<text x="334.8" y="412.75" text-anchor="middle" class="tk">0</text>
<text x="379.1" y="412.75" text-anchor="middle" class="tk">50</text>
<text x="423.4" y="412.75" text-anchor="middle" class="tk">100</text>
<text x="467.7" y="412.75" text-anchor="middle" class="tk">150</text>
<text x="512" y="412.75" text-anchor="middle" class="tk">200</text>
<text x="556.3" y="412.75" text-anchor="middle" class="tk">250</text>
<text x="326" y="424.25" text-anchor="end" class="tk">0</text>
<text x="326" y="448.71" text-anchor="end" class="tk">-0.5</text>
<text x="326" y="473.17" text-anchor="end" class="tk">-1</text>
<text x="326" y="497.63" text-anchor="end" class="tk">-1.5</text>
<text x="326" y="522.09" text-anchor="end" class="tk">-2</text>
<text x="326" y="546.55" text-anchor="end" class="tk">-2.5</text>
<text x="444.5" y="402" text-anchor="middle" class="ax">x(s)</text>
<text transform="translate(314.4,470) rotate(-90)" x="0" y="1.3" text-anchor="middle" class="ax">y</text>
<text x="451.2" y="432.7" text-anchor="middle" class="ttl">Conical bob</text>
<line x1="353.3" y1="428.02" x2="501.4" y2="520.91" stroke="#ed7d31" stroke-width="1.6" stroke-dasharray="1.3 1.1" />
<path d="M353.3,428.4 L364.2,435.4 L377.4,444.4 L399.3,455.6 L420.5,469.5 L454.6,489.3 L501.4,522.9" fill="none" stroke="#ed7d31" stroke-width="1.2"/>
<path d="M352.38,428.4 H354.23 M352.38,426.2 V430.6 M354.23,426.2 V430.6" stroke="#404040" stroke-width="0.9" fill="none"/>
<path d="M362.73,435.4 H365.67 M362.73,433.2 V437.6 M365.67,433.2 V437.6" stroke="#404040" stroke-width="0.9" fill="none"/>
<path d="M375.27,444.4 H379.53 M375.27,442.2 V446.6 M379.53,442.2 V446.6" stroke="#404040" stroke-width="0.9" fill="none"/>
<path d="M396.07,455.6 H402.53 M396.07,453.4 V457.8 M402.53,453.4 V457.8" stroke="#404040" stroke-width="0.9" fill="none"/>
<path d="M416.21,469.5 H424.79 M416.21,467.3 V471.7 M424.79,467.3 V471.7" stroke="#404040" stroke-width="0.9" fill="none"/>
<path d="M448.61,489.3 H460.59 M448.61,487.1 V491.5 M460.59,487.1 V491.5" stroke="#404040" stroke-width="0.9" fill="none"/>
<path d="M493.07,522.9 H509.73 M493.07,520.7 V525.1 M509.73,520.7 V525.1" stroke="#404040" stroke-width="0.9" fill="none"/>
<circle cx="353.3" cy="428.4" r="1.7" fill="#ed7d31"/>
<circle cx="364.2" cy="435.4" r="1.7" fill="#ed7d31"/>
<circle cx="377.4" cy="444.4" r="1.7" fill="#ed7d31"/>
<circle cx="399.3" cy="455.6" r="1.7" fill="#ed7d31"/>
<circle cx="420.5" cy="469.5" r="1.7" fill="#ed7d31"/>
<circle cx="454.6" cy="489.3" r="1.7" fill="#ed7d31"/>
<circle cx="501.4" cy="522.9" r="1.7" fill="#ed7d31"/>
<line x1="356.5" y1="425.37" x2="530.6" y2="519.61" stroke="#4472c4" stroke-width="1.6" stroke-dasharray="1.3 1.1" />
<path d="M356.5,427.3 L375.3,435.2 L388.5,444.2 L414.1,455.6 L443.5,469.5 L478.8,489.1 L530.6,522.9" fill="none" stroke="#4472c4" stroke-width="1.2"/>
<path d="M355.42,427.3 H357.58 M355.42,425.1 V429.5 M357.58,425.1 V429.5" stroke="#404040" stroke-width="0.9" fill="none"/>
<path d="M373.28,435.2 H377.32 M373.28,433 V437.4 M377.32,433 V437.4" stroke="#404040" stroke-width="0.9" fill="none"/>
<path d="M385.81,444.2 H391.19 M385.81,442 V446.4 M391.19,442 V446.4" stroke="#404040" stroke-width="0.9" fill="none"/>
<path d="M410.14,455.6 H418.06 M410.14,453.4 V457.8 M418.06,453.4 V457.8" stroke="#404040" stroke-width="0.9" fill="none"/>
<path d="M438.06,469.5 H448.94 M438.06,467.3 V471.7 M448.94,467.3 V471.7" stroke="#404040" stroke-width="0.9" fill="none"/>
<path d="M471.6,489.1 H486 M471.6,486.9 V491.3 M486,486.9 V491.3" stroke="#404040" stroke-width="0.9" fill="none"/>
<path d="M520.81,522.9 H540.39 M520.81,520.7 V525.1 M540.39,520.7 V525.1" stroke="#404040" stroke-width="0.9" fill="none"/>
<circle cx="356.5" cy="427.3" r="1.7" fill="#4472c4"/>
<circle cx="375.3" cy="435.2" r="1.7" fill="#4472c4"/>
<circle cx="388.5" cy="444.2" r="1.7" fill="#4472c4"/>
<circle cx="414.1" cy="455.6" r="1.7" fill="#4472c4"/>
<circle cx="443.5" cy="469.5" r="1.7" fill="#4472c4"/>
<circle cx="478.8" cy="489.1" r="1.7" fill="#4472c4"/>
<circle cx="530.6" cy="522.9" r="1.7" fill="#4472c4"/>
<text x="514.3" y="470.2" text-anchor="middle" class="an" textLength="32.53" lengthAdjust="spacingAndGlyphs">thin string</text>
<text x="514.3" y="480.3" text-anchor="middle" class="an" textLength="60.77" lengthAdjust="spacingAndGlyphs">y = -0.009x + 0.153</text>
<text x="514.3" y="489.9" text-anchor="middle" class="an" textLength="36.44" lengthAdjust="spacingAndGlyphs">R² = 0.9944</text>
<text x="436" y="502.7" text-anchor="middle" class="an" textLength="35.35" lengthAdjust="spacingAndGlyphs">thick string</text>
<text x="436" y="512.5" text-anchor="middle" class="an" textLength="60.77" lengthAdjust="spacingAndGlyphs">y = -0.011x + 0.108</text>
<text x="436" y="522.1" text-anchor="middle" class="an" textLength="36.44" lengthAdjust="spacingAndGlyphs">R² = 0.9978</text>
<text x="460" y="567.5" text-anchor="middle" class="cap" font-weight="normal">(f)</text>
<line x1="169.6" y1="617.4" x2="169.6" y2="735.7" stroke="#d9d9d9" stroke-width="1"/>
<line x1="216.2" y1="617.4" x2="216.2" y2="735.7" stroke="#d9d9d9" stroke-width="1"/>
<line x1="262.8" y1="617.4" x2="262.8" y2="735.7" stroke="#d9d9d9" stroke-width="1"/>
<line x1="309.4" y1="617.4" x2="309.4" y2="735.7" stroke="#d9d9d9" stroke-width="1"/>
<line x1="356" y1="617.4" x2="356" y2="735.7" stroke="#d9d9d9" stroke-width="1"/>
<line x1="402.6" y1="617.4" x2="402.6" y2="735.7" stroke="#d9d9d9" stroke-width="1"/>
<line x1="169.6" y1="617.4" x2="402.6" y2="617.4" stroke="#d9d9d9" stroke-width="1"/>
<line x1="169.6" y1="641.06" x2="402.6" y2="641.06" stroke="#d9d9d9" stroke-width="1"/>
<line x1="169.6" y1="664.72" x2="402.6" y2="664.72" stroke="#d9d9d9" stroke-width="1"/>
<line x1="169.6" y1="688.38" x2="402.6" y2="688.38" stroke="#d9d9d9" stroke-width="1"/>
<line x1="169.6" y1="712.04" x2="402.6" y2="712.04" stroke="#d9d9d9" stroke-width="1"/>
<line x1="169.6" y1="735.7" x2="402.6" y2="735.7" stroke="#d9d9d9" stroke-width="1"/>
<text x="169.6" y="608.65" text-anchor="middle" class="tk">0</text>
<text x="216.2" y="608.65" text-anchor="middle" class="tk">50</text>
<text x="262.8" y="608.65" text-anchor="middle" class="tk">100</text>
<text x="309.4" y="608.65" text-anchor="middle" class="tk">150</text>
<text x="356" y="608.65" text-anchor="middle" class="tk">200</text>
<text x="402.6" y="608.65" text-anchor="middle" class="tk">250</text>
<text x="161.4" y="620.35" text-anchor="end" class="tk">0</text>
<text x="161.4" y="644.01" text-anchor="end" class="tk">-0.5</text>
<text x="161.4" y="667.67" text-anchor="end" class="tk">-1</text>
<text x="161.4" y="691.33" text-anchor="end" class="tk">-1.5</text>
<text x="161.4" y="714.99" text-anchor="end" class="tk">-2</text>
<text x="161.4" y="738.65" text-anchor="end" class="tk">-2.5</text>
<text x="288.4" y="601.5" text-anchor="middle" class="ax">x(s)</text>
<text transform="translate(148,668.2) rotate(-90)" x="0" y="1.3" text-anchor="middle" class="ax">y</text>
<text x="295.4" y="628.7" text-anchor="middle" class="ttl">Rubber ball</text>
<line x1="179.4" y1="624.11" x2="284.9" y2="714.84" stroke="#ed7d31" stroke-width="1.6" stroke-dasharray="1.3 1.1" />
<path d="M179.4,623.7 L185.8,630.9 L196.9,639.7 L211.2,650.8 L227.2,664.1 L248.1,682.7 L284.9,715.7" fill="none" stroke="#ed7d31" stroke-width="1.2"/>
<path d="M178.91,623.7 H179.89 M178.91,621.5 V625.9 M179.89,621.5 V625.9" stroke="#404040" stroke-width="0.9" fill="none"/>
<path d="M184.99,630.9 H186.61 M184.99,628.7 V633.1 M186.61,628.7 V633.1" stroke="#404040" stroke-width="0.9" fill="none"/>
<path d="M195.53,639.7 H198.27 M195.53,637.5 V641.9 M198.27,637.5 V641.9" stroke="#404040" stroke-width="0.9" fill="none"/>
<path d="M209.12,650.8 H213.28 M209.12,648.6 V653 M213.28,648.6 V653" stroke="#404040" stroke-width="0.9" fill="none"/>
<path d="M224.32,664.1 H230.08 M224.32,661.9 V666.3 M230.08,661.9 V666.3" stroke="#404040" stroke-width="0.9" fill="none"/>
<path d="M244.17,682.7 H252.03 M244.17,680.5 V684.9 M252.03,680.5 V684.9" stroke="#404040" stroke-width="0.9" fill="none"/>
<path d="M279.13,715.7 H290.66 M279.13,713.5 V717.9 M290.66,713.5 V717.9" stroke="#404040" stroke-width="0.9" fill="none"/>
<circle cx="179.4" cy="623.7" r="1.7" fill="#ed7d31"/>
<circle cx="185.8" cy="630.9" r="1.7" fill="#ed7d31"/>
<circle cx="196.9" cy="639.7" r="1.7" fill="#ed7d31"/>
<circle cx="211.2" cy="650.8" r="1.7" fill="#ed7d31"/>
<circle cx="227.2" cy="664.1" r="1.7" fill="#ed7d31"/>
<circle cx="248.1" cy="682.7" r="1.7" fill="#ed7d31"/>
<circle cx="284.9" cy="715.7" r="1.7" fill="#ed7d31"/>
<line x1="199.5" y1="622.97" x2="345.5" y2="714.26" stroke="#4472c4" stroke-width="1.6" stroke-dasharray="1.3 1.1" />
<path d="M199.5,623.5 L212.3,630.9 L224.6,639.7 L243.8,650.8 L267.3,664.2 L299.8,683.2 L345.5,716.3" fill="none" stroke="#4472c4" stroke-width="1.2"/>
<path d="M198,623.5 H201 M198,621.3 V625.7 M201,621.3 V625.7" stroke="#404040" stroke-width="0.9" fill="none"/>
<path d="M210.17,630.9 H214.44 M210.17,628.7 V633.1 M214.44,628.7 V633.1" stroke="#404040" stroke-width="0.9" fill="none"/>
<path d="M221.85,639.7 H227.35 M221.85,637.5 V641.9 M227.35,637.5 V641.9" stroke="#404040" stroke-width="0.9" fill="none"/>
<path d="M240.09,650.8 H247.51 M240.09,648.6 V653 M247.51,648.6 V653" stroke="#404040" stroke-width="0.9" fill="none"/>
<path d="M262.42,664.2 H272.19 M262.42,662 V666.4 M272.19,662 V666.4" stroke="#404040" stroke-width="0.9" fill="none"/>
<path d="M293.29,683.2 H306.31 M293.29,681 V685.4 M306.31,681 V685.4" stroke="#404040" stroke-width="0.9" fill="none"/>
<path d="M336.7,716.3 H354.3 M336.7,714.1 V718.5 M354.3,714.1 V718.5" stroke="#404040" stroke-width="0.9" fill="none"/>
<circle cx="199.5" cy="623.5" r="1.7" fill="#4472c4"/>
<circle cx="212.3" cy="630.9" r="1.7" fill="#4472c4"/>
<circle cx="224.6" cy="639.7" r="1.7" fill="#4472c4"/>
<circle cx="243.8" cy="650.8" r="1.7" fill="#4472c4"/>
<circle cx="267.3" cy="664.2" r="1.7" fill="#4472c4"/>
<circle cx="299.8" cy="683.2" r="1.7" fill="#4472c4"/>
<circle cx="345.5" cy="716.3" r="1.7" fill="#4472c4"/>
<text x="367" y="684.8" text-anchor="middle" class="an" textLength="32.53" lengthAdjust="spacingAndGlyphs">thin string</text>
<text x="367" y="694.4" text-anchor="middle" class="an" textLength="60.77" lengthAdjust="spacingAndGlyphs">y = -0.012x + 0.272</text>
<text x="367" y="704.2" text-anchor="middle" class="an" textLength="32.39" lengthAdjust="spacingAndGlyphs">R² = 0.997</text>
<text x="232" y="702.6" text-anchor="middle" class="an" textLength="35.35" lengthAdjust="spacingAndGlyphs">thick string</text>
<text x="232" y="712.3" text-anchor="middle" class="an" textLength="60.77" lengthAdjust="spacingAndGlyphs">y = -0.017x + 0.041</text>
<text x="232" y="722.3" text-anchor="middle" class="an" textLength="32.39" lengthAdjust="spacingAndGlyphs">R² = 0.998</text>
<text x="286" y="767.3" text-anchor="middle" class="cap" font-weight="normal">(g)</text>
<path d="M28.2,149.2 H30.4 M31.4,146.7 Q33,145.3 35.2,146.7 L40,149 L45.6,151 L48,151.4" stroke="#2a2a2a" stroke-width="1" fill="none"/>
<path d="M39.8,145.8 L39.4,150.4" stroke="#2a2a2a" stroke-width="1" fill="none"/>
<path d="M48,151.4 L53,151.8" stroke="#777" stroke-width="0.8" stroke-dasharray="1 1" fill="none"/>
</svg>
</body></html>
